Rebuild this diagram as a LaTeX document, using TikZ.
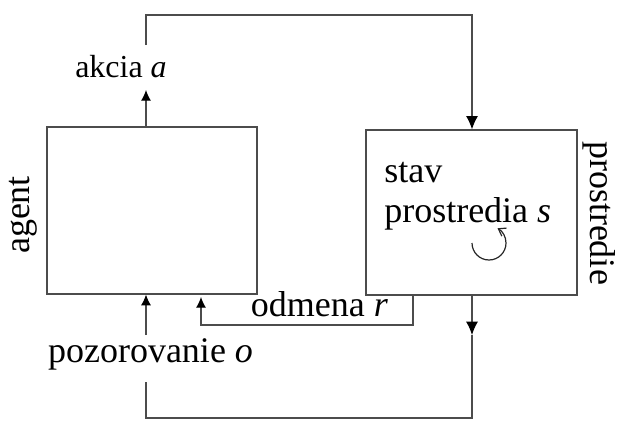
\documentclass[tikz,border=0pt]{standalone}
\usepackage{fontspec}
\setmainfont{Liberation Serif}
\usetikzlibrary{arrows.meta}
\tikzset{
  box/.style={draw=black!70, line width=0.9pt, inner sep=0pt},
  wire/.style={draw=black!70, line width=0.9pt},
  bigtip/.style={-{Latex[length=10pt,width=9pt,color=black]}},
  smalltip/.style={-{Latex[length=8pt,width=7.5pt,color=black]}},
  lbl/.style={inner sep=0.75pt, font=\fontsize{27}{30}\selectfont}
}
\begin{document}
\begin{tikzpicture}[x=0.75pt,y=0.75pt,yscale=-1,xscale=1]
\useasboundingbox (0,0) rectangle (618,421);
% boxes
\node (agent) [box, minimum width=157.5pt, minimum height=125.25pt] at (152,210.5) {};
\node (env) [box, minimum width=158.25pt, minimum height=123.75pt] at (471.5,212.5) {};
% Text Node
\node (akcia) [lbl, font=\fontsize{24}{28}\selectfont, anchor=base] at (121,77) {akcia \textit{a}};
% Text Node
\node (pozor) [lbl, anchor=base] at (150.5,362) {pozorovanie \textit{o}};
% Text Node
\node (odmena) [lbl, anchor=base] at (319.5,316) {odmena \textit{r}};
% Text Node
\node (stav) [lbl, anchor=base west] at (383,182) {stav};
% Text Node
\node (stavs) [lbl, anchor=base west] at (383,222) {prostredia \textit{s}};
% Text Node
\node (agentlbl) [lbl, rotate=90] at (23,215) {agent};
% Text Node
\node (envlbl) [lbl, rotate=-90] at (599,213) {prostredie};
% wire corners
\coordinate (aup) at (146,90);
\coordinate (adown) at (146,45);
\coordinate (ttop) at (146,15);
\coordinate (obot) at (146,418);
\coordinate (oup) at (146,335);
\coordinate (olow) at (146,382);
\coordinate (sarr) at (472,335);
\coordinate (rturn) at (413,325);
% action
\draw[wire,smalltip] (aup |- agent.north) -- (aup);
\draw[wire,bigtip] (adown) -- (ttop) -- (ttop -| sarr) -- (sarr |- env.north);
% state to observation
\draw[wire,bigtip] (sarr |- env.south) -- (sarr);
\draw[wire] (sarr) -- (sarr |- obot) -- (obot) -- (olow);
\draw[wire,smalltip] (oup) -- (oup |- agent.south);
% reward
\draw[wire,smalltip] (rturn |- env.south) -- (rturn) -- (201,325) -- (201,297);
% state update
\draw[wire,draw=black!85,-{Straight Barb[length=5pt,width=7pt]}] (472,243) arc[start angle=180, end angle=-60, radius=17];
\end{tikzpicture}
\end{document}
